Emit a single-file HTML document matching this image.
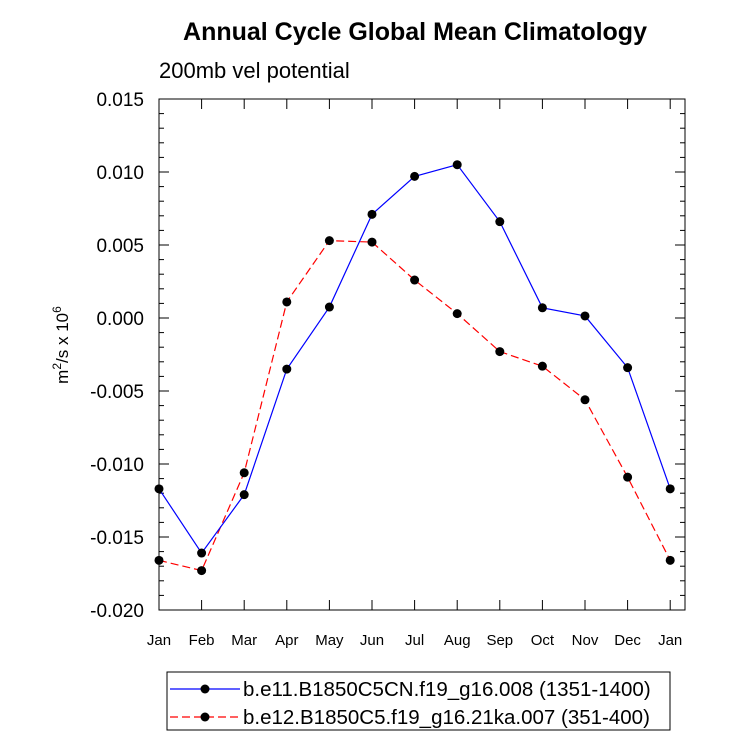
<!DOCTYPE html>
<html><head><meta charset="utf-8"><style>
body{margin:0;background:#fff;font-family:"Liberation Sans",sans-serif}
</style></head><body>
<svg width="733" height="744" xmlns="http://www.w3.org/2000/svg" font-family="Liberation Sans, sans-serif">
<text x="415" y="40" text-anchor="middle" font-size="25" font-weight="bold">Annual Cycle Global Mean Climatology</text>
<text x="159" y="78" font-size="22">200mb vel potential</text>
<text transform="translate(68,345) rotate(-90)" text-anchor="middle" font-size="17">m<tspan dy="-7" font-size="12">2</tspan><tspan dy="7">/s x 10</tspan><tspan dy="-7" font-size="12">6</tspan></text>
<g id="axes"></g>
<g id="marks"></g>
<g>
<rect x="167" y="672" width="503" height="58" fill="none" stroke="#000" stroke-width="1"/>
<line x1="170" y1="689" x2="240" y2="689" stroke="#0000ff" stroke-width="1.2"/>
<circle cx="205" cy="689" r="4.5"/>
<text x="243" y="696" font-size="20.5">b.e11.B1850C5CN.f19_g16.008 (1351-1400)</text>
<line x1="170" y1="717" x2="240" y2="717" stroke="#ff0000" stroke-width="1.2" stroke-dasharray="8,4"/>
<circle cx="205" cy="717" r="4.5"/>
<text x="243" y="724" font-size="20.5">b.e12.B1850C5.f19_g16.21ka.007 (351-400)</text>
</g>
</svg>
<script>
const months=["Jan","Feb","Mar","Apr","May","Jun","Jul","Aug","Sep","Oct","Nov","Dec","Jan"];
const blueValues=[-0.0117,-0.0161,-0.0121,-0.0035,0.00075,0.0071,0.0097,0.0105,0.0066,0.0007,0.00014,-0.0034,-0.0117];
const redValues=[-0.0166,-0.0173,-0.0106,0.0011,0.0053,0.0052,0.0026,0.0003,-0.0023,-0.0033,-0.0056,-0.0109,-0.0166];
const yTicks=[0.015,0.010,0.005,0.000,-0.005,-0.010,-0.015,-0.020];
const yTickLabels=["0.015","0.010","0.005","0.000","-0.005","-0.010","-0.015","-0.020"];
const NS="http://www.w3.org/2000/svg";
const L=159,R=685,T=99,B=610,X0=159,XS=42.6;
const x=i=>X0+i*XS;
const y=v=>T+(0.015-v)/0.035*(B-T);
function mk(t,a,p){const e=document.createElementNS(NS,t);for(const k in a)e.setAttribute(k,a[k]);p.appendChild(e);return e;}
const ax=document.getElementById('axes'),mg=document.getElementById('marks');
const fr=mk('rect',{x:L,y:T,width:R-L,height:B-T,fill:'none',stroke:'#000','stroke-width':1},ax);


for(let v=-20;v<=15;v++){const yy=y(v/1000);const len=(v%5===0)?10:5;
mk('line',{x1:L,y1:yy,x2:L+len,y2:yy,stroke:'#000'},ax);
mk('line',{x1:R,y1:yy,x2:R-len,y2:yy,stroke:'#000'},ax);}
yTicks.forEach((v,i)=>{const t=mk('text',{x:L-15,y:y(v)+7,'text-anchor':'end','font-size':19},ax);t.textContent=yTickLabels[i];

});
months.forEach((m,i)=>{const xx=x(i);
mk('line',{x1:xx,y1:B,x2:xx,y2:B-10,stroke:'#000'},ax);
mk('line',{x1:xx,y1:T,x2:xx,y2:T+10,stroke:'#000'},ax);
const t=mk('text',{x:xx,y:B+35,'text-anchor':'middle','font-size':15},ax);t.textContent=m;

});
function series(vals,color,dash,name){
const pts=vals.map((v,i)=>x(i)+','+y(v)).join(' ');
const pl=mk('polyline',{points:pts,fill:'none',stroke:color,'stroke-width':1.2,'stroke-dasharray':dash},mg);


vals.forEach((v,i)=>{const c=mk('circle',{cx:x(i),cy:y(v),r:4.5,fill:'#000'},mg);

});}
series(redValues,'#ff0000','8,4','red-series');
series(blueValues,'#0000ff','none','blue-series');
</script>
</body></html>
